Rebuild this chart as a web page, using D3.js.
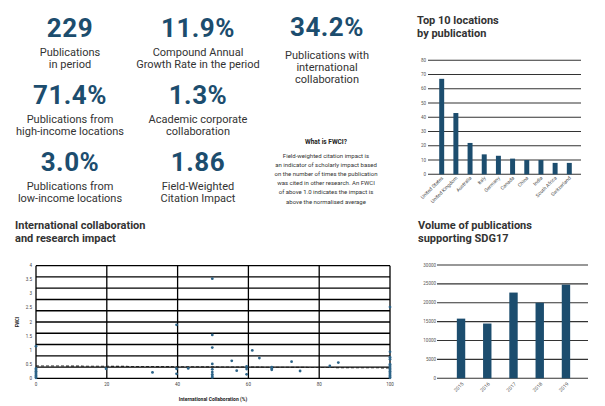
<!DOCTYPE html>
<html><head><meta charset="utf-8">
<script src="https://cdn.jsdelivr.net/npm/d3@7"></script>
<style>
body{margin:0;background:#fff;}
svg{display:block;font-family:Roboto,"Noto Sans",sans-serif;}
</style></head>
<body><svg id="c" width="605" height="406"></svg>
<script>
// KPI data
const kpiValues = ["229","11.9%","34.2%","71.4%","1.3%","3.0%","1.86"];
const kpiLabels = [["Publications","in period"],["Compound Annual","Growth Rate in the period"],["Publications with","international","collaboration"],["Publications from","high-income locations"],["Academic corporate","collaboration"],["Publications from","low-income locations"],["Field-Weighted","Citation Impact"]];
const fwciTitle = "What is FWCI?";
const fwciText = ["Field-weighted citation impact is","an indicator of scholarly impact based","on the number of times the publication","was cited in other research. An FWCI","of above 1.0 indicates the impact is","above the normalised average"];

// Top 10 locations
const locations = ["United States","United Kingdom","Australia","Italy","Germany","Canada","China","India","South Africa","Switzerland"];
const locationPubs = [67,43,22,14,13,11,10,10,8,8];
const locTicks = [0,10,20,30,40,50,60,70,80];

// SDG17 volume
const years = ["2015","2016","2017","2018","2019"];
const yearPubs = [15800,14500,22700,20000,24800];
const yearTicks = [0,5000,10000,15000,20000,25000,30000];

// Scatter
const collabPct = [0,0,0,0,0,0,0,0,0,
  19.8,32.9,39.7,39.7,39.7,43,
  49.8,49.8,49.8,49.8,49.8,49.8,49.8,49.8,49.8,
  55.3,56.7,59.5,59.5,59.5,61.1,63.1,66.6,66.6,66.6,72.2,74.6,83,85.4,
  100,100,100,100,100,100,100,100,100,100,100,100,100,100,100];
const fwciVals = [1.14,0.35,0.3,0.25,0.2,0.15,0.1,0.05,0.02,
  0.34,0.21,1.9,0.34,0.16,0.35,
  3.54,1.54,1.09,0.51,0.32,0.22,0.14,0.08,0.03,
  0.62,0.27,0.42,0.33,0.14,0.99,0.72,0.4,0.35,0.3,0.59,0.26,0.44,0.56,
  2.53,0.94,0.75,0.68,0.5,0.45,0.4,0.35,0.3,0.25,0.2,0.15,0.1,0.05,0.02];
const trendX = [0,100];
const trendY = [0.44,0.37];
const scatterXTicks = [0,20,40,60,80,100];
const scatterYTicks = [0,0.5,1,1.5,2,2.5,3,3.5,4];
const scatterGrid = [0,0.4,0.8,1.2,1.6,2,2.4,2.8,3.2,3.6,4];

const svg = d3.select("#c");
const blue = "#1c4d6e", txt = "#333";

// KPIs
const kpiPos = [[70,37],[198,37],[327,36],[70,104],[198,104],[70,171],[198,171]];
kpiValues.forEach((v,i)=>{
  const [x,y]=kpiPos[i];
  svg.append("text").attr("x",x).attr("y",y).attr("text-anchor","middle")
    .attr("font-size",26).attr("font-weight",700).attr("fill",blue).attr("letter-spacing",0.5).text(v);
  const start = i===2 ? 59 : y+19;
  kpiLabels[i].forEach((l,j)=>{
    svg.append("text").attr("x",x).attr("y",start+j*12).attr("text-anchor","middle")
      .attr("font-size",11).attr("fill",txt).text(l);
  });
});
svg.append("text").attr("x",326).attr("y",144).attr("text-anchor","middle").attr("font-size",6.5)
  .attr("font-weight",700).attr("fill","#222").text(fwciTitle);
fwciText.forEach((l,j)=>svg.append("text").attr("x",326).attr("y",158+j*9.1).attr("text-anchor","middle")
  .attr("font-size",6).attr("fill","#333").text(l));

// titles
function title(x,y,lines){
  lines.forEach((l,j)=>svg.append("text").attr("x",x).attr("y",y+j*12.5).attr("font-size",11)
    .attr("font-weight",700).attr("fill",txt).text(l));
}
title(417,24,["Top 10 locations","by publication"]);
title(418,229,["Volume of publications","supporting SDG17"]);
title(15,229,["International collaboration","and research impact"]);

// Top 10 bar chart
{
  const x = d3.scaleBand().domain(locations).range([430,581]).padding(0.65);
  const y = d3.scaleLinear().domain([0,80]).range([174.3,60.3]);
  const g = svg.append("g");
  g.selectAll("line.g").data(locTicks).join("line").attr("x1",428).attr("x2",581)
    .attr("y1",d=>y(d)).attr("y2",d=>y(d)).attr("stroke","#333").attr("stroke-width",1.1);
  g.selectAll("text.t").data(locTicks).join("text").attr("x",426).attr("y",d=>y(d)+1.5)
    .attr("text-anchor","end").attr("font-size",4.5).attr("fill","#555").text(d=>d);
  g.selectAll("rect").data(locations).join("rect").attr("x",d=>x(d)).attr("width",x.bandwidth())
    .attr("y",(d,i)=>y(locationPubs[i])).attr("height",(d,i)=>y(0)-y(locationPubs[i])).attr("fill",blue);
  g.selectAll("text.c").data(locations).join("text")
    .attr("transform",d=>`translate(${x(d)+x.bandwidth()/2+2},${y(0)+4}) rotate(-45)`)
    .attr("text-anchor","end").attr("font-size",5).attr("fill","#555").text(d=>d);
}

// SDG17 bar chart
{
  const x = d3.scaleBand().domain(years).range([439,588]).padding(0.68);
  const y = d3.scaleLinear().domain([0,30000]).range([378.3,265]);
  const g = svg.append("g");
  g.selectAll("line").data(yearTicks).join("line").attr("x1",437).attr("x2",588)
    .attr("y1",d=>y(d)).attr("y2",d=>y(d)).attr("stroke","#333").attr("stroke-width",1.1);
  g.selectAll("text.t").data(yearTicks).join("text").attr("x",436).attr("y",d=>y(d)+1.5)
    .attr("text-anchor","end").attr("font-size",4.5).attr("fill","#555").text(d=>d);
  g.selectAll("rect").data(years).join("rect").attr("x",d=>x(d)).attr("width",x.bandwidth())
    .attr("y",(d,i)=>y(yearPubs[i])).attr("height",(d,i)=>y(0)-y(yearPubs[i])).attr("fill",blue);
  g.selectAll("text.c").data(years).join("text")
    .attr("transform",d=>`translate(${x(d)+x.bandwidth()/2+3},${y(0)+6}) rotate(-45)`)
    .attr("text-anchor","end").attr("font-size",5).attr("fill","#555").text(d=>d);
}

// Scatter
{
  const x = d3.scaleLinear().domain([0,100]).range([36,390]);
  const y = d3.scaleLinear().domain([0,4]).range([378.3,265.7]);
  const g = svg.append("g");
  g.selectAll("line.h").data(scatterGrid).join("line").attr("x1",x(0)).attr("x2",x(100))
    .attr("y1",d=>y(d)).attr("y2",d=>y(d)).attr("stroke","#000").attr("stroke-width",1.3);
  g.selectAll("line.v").data(scatterXTicks).join("line").attr("y1",y(0)).attr("y2",y(4))
    .attr("x1",d=>x(d)).attr("x2",d=>x(d)).attr("stroke","#000").attr("stroke-width",1.3);
  g.selectAll("text.yt").data(scatterYTicks).join("text").attr("x",32).attr("y",d=>y(d)+1.5)
    .attr("text-anchor","end").attr("font-size",4.5).attr("fill","#444").text(d=>d);
  g.selectAll("text.xt").data(scatterXTicks).join("text").attr("x",d=>x(d)).attr("y",386)
    .attr("text-anchor","middle").attr("font-size",4.5).attr("fill","#444").text(d=>d);
  g.append("line").attr("x1",x(trendX[0])).attr("x2",x(trendX[1])).attr("y1",y(trendY[0])).attr("y2",y(trendY[1]))
    .attr("stroke","#222").attr("stroke-width",1.1).attr("stroke-dasharray","3,2");
  g.selectAll("circle").data(collabPct).join("circle").attr("cx",d=>x(d)).attr("cy",(d,i)=>y(fwciVals[i]))
    .attr("r",1.4).attr("fill","#2d6488");
  g.append("text").attr("transform",`translate(19,322) rotate(-90)`).attr("text-anchor","middle")
    .attr("font-size",4.5).attr("font-weight",700).attr("fill","#222").text("FWCI");
  g.append("text").attr("x",213).attr("y",401).attr("text-anchor","middle")
    .attr("font-size",5).attr("font-weight",700).attr("fill","#222").text("International Collaboration (%)");
}
</script></body></html>
